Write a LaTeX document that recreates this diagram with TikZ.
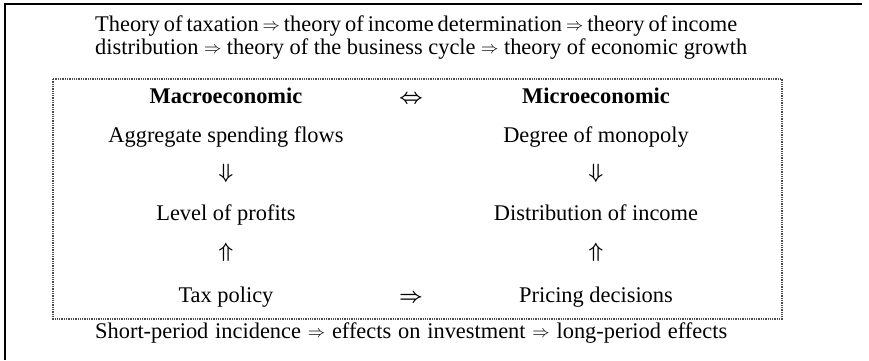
\documentclass[tikz,border=0pt]{standalone}
\usepackage{fontspec}
\setmainfont{Liberation Serif}
\usepackage{amsmath}
\usepackage{amssymb}
\usetikzlibrary{positioning,arrows}
% small implication arrow used inside the running text
\newcommand{\leadon}{\raisebox{1pt}{\fontsize{18.5}{19}\selectfont$\Rightarrow$}}

\begin{document}
\begin{tikzpicture}[x=1pt, y=-1pt]
    \tikzstyle{every node} = [font=\fontsize{22.4}{27}\selectfont, inner sep=0pt]
    \tikzstyle{chain} = [anchor=base west]
    \tikzstyle{entry} = [text height=15pt, text depth=5pt]
    \tikzstyle{heading} = [entry, font=\fontsize{22.4}{27}\selectfont\bfseries]
    \tikzstyle{link} = [entry, font=\fontsize{22.4}{27}\selectfont\boldmath]
    \tikzstyle{turn} = [font=\fontsize{22.4}{27}\selectfont\boldmath]
    \tikzstyle{frame} = [draw=black, line width=1.8pt]
    \tikzstyle{panel} = [draw=black!70, densely dotted, line width=1.3pt]

    \useasboundingbox (0,0) rectangle (869,360);
    \fill [white] (0,0) rectangle (869,360);
    \draw [frame] (5,360) -- (5,4) -- (862,4);

    % chain of theories
    \node (taxation) [chain] at (95,31) {\makebox[642pt][s]{Theory of taxation \leadon{} theory of income determination \leadon{} theory of income}};
    \node (distribution) [chain] at (95,54) {\makebox[652pt][s]{distribution \leadon{} theory of the business cycle \leadon{} theory of economic growth}};

    % macro side
    \node (macro) [heading] at (226,98) {Macroeconomic};
    \node (spending) [entry, below of=macro, node distance=39pt] {Aggregate spending flows};
    \node (down1) [turn, below of=spending, node distance=36pt] {$\Downarrow$};
    \node (profits) [entry, below of=down1, node distance=42pt] {Level of profits};
    \node (up1) [turn, below of=profits, node distance=37pt] {$\Uparrow$};
    \node (tax) [entry, below of=up1, node distance=45pt] {Tax policy};

    % micro side
    \node (micro) [heading, right of=macro, node distance=370pt] {Microeconomic};
    \node (monopoly) [entry, right of=spending, node distance=370pt] {Degree of monopoly};
    \node (down2) [turn, right of=down1, node distance=370pt] {$\Downarrow$};
    \node (income) [entry, right of=profits, node distance=370pt] {Distribution of income};
    \node (up2) [turn, right of=up1, node distance=370pt] {$\Uparrow$};
    \node (pricing) [entry, right of=tax, node distance=370pt] {Pricing decisions};

    \node (both) [link, right of=macro, node distance=185pt] {$\Leftrightarrow$};
    \node (feeds) [link, right of=tax, node distance=185pt] {$\Rightarrow$};

    \draw [panel] (53,79) rectangle (782,319);

    \node (periods) [chain] at (95,338) {\makebox[632pt][s]{Short-period incidence \leadon{} effects on investment \leadon{} long-period effects}};
\end{tikzpicture}
\end{document}
